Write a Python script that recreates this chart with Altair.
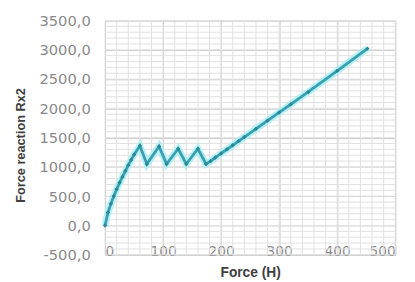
import altair as alt
import pandas as pd

force = [0, 5, 10, 15, 20, 25, 30, 35, 40, 45, 50, 60, 72, 93, 106, 126, 140, 160, 174,
         182, 190, 200, 210, 220, 230, 240, 260, 280, 300, 320, 350, 400, 452]
reaction = [0, 220, 370, 500, 620, 730, 830, 930, 1030, 1120, 1210, 1360, 1050, 1350, 1050,
            1310, 1050, 1310, 1050, 1100, 1160, 1230, 1300, 1370, 1440, 1510, 1650, 1790,
            1930, 2070, 2280, 2640, 3020]

grid_x = list(range(0, 501, 20))
grid_y = list(range(-500, 3501, 100))
x_ticks = [0, 100, 200, 300, 400, 500]
y_ticks = list(range(-500, 3501, 500))

df = pd.DataFrame({"F": force, "R": reaction})
gx = pd.DataFrame({"F": grid_x})
gy = pd.DataFrame({"R": grid_y})

xs = alt.Scale(domain=[0, 500], nice=False, zero=False)
ys = alt.Scale(domain=[-500, 3500], nice=False, zero=False)

label_expr = "replace(replace(format(datum.value, '.1f'), '.', ','), '\u2212', '-')"

xa = alt.Axis(
    values=x_ticks, title="Force (H)", grid=True,
    gridColor="#c6c6c6", domain=False, ticks=False, labelPadding=-10,
    labelFont="DejaVu Sans", labelFontSize=14, labelColor="#8a8a8a",
    titleFont="Liberation Sans", titleFontSize=14, titleColor="#404040",
    titleFontWeight="bold", titlePadding=7)
ya = alt.Axis(
    values=y_ticks, title="Force reaction Rx2", grid=True,
    gridColor="#c6c6c6", domain=False, ticks=False, labelPadding=15,
    labelExpr=label_expr,
    labelFont="DejaVu Sans", labelFontSize=15, labelColor="#8a8a8a",
    titleFont="Liberation Sans", titleFontSize=13, titleColor="#404040",
    titleFontWeight="bold", titlePadding=12, titleY=127)

X = alt.X("F:Q", scale=xs, axis=xa)
Y = alt.Y("R:Q", scale=ys, axis=ya)

vgrid = alt.Chart(gx).mark_rule(color="#e0e0e0", strokeWidth=1).encode(x=X)
hgrid = alt.Chart(gy).mark_rule(color="#e0e0e0", strokeWidth=1).encode(y=Y)

glow = alt.Chart(df).mark_line(color="#a8eef6", strokeWidth=7, opacity=0.85).encode(
    x=X, y=Y, order="F:Q")
line = alt.Chart(df).mark_line(color="#3a9fae", strokeWidth=2.8).encode(
    x=X, y=Y, order="F:Q")
pts = alt.Chart(df).mark_point(shape="diamond", filled=True, size=20, color="#2e8794", opacity=1).encode(
    x=X, y=Y)

chart = alt.layer(vgrid, hgrid, glow, line, pts).properties(
    width=296, height=239,
    autosize=alt.AutoSizeParams(type="none"),
    padding={"left": 99, "top": 10, "right": 12, "bottom": 25},
).configure_view(stroke=None).configure(background="white")

chart.save("out.html", embed_options={"renderer": "svg", "actions": False})
